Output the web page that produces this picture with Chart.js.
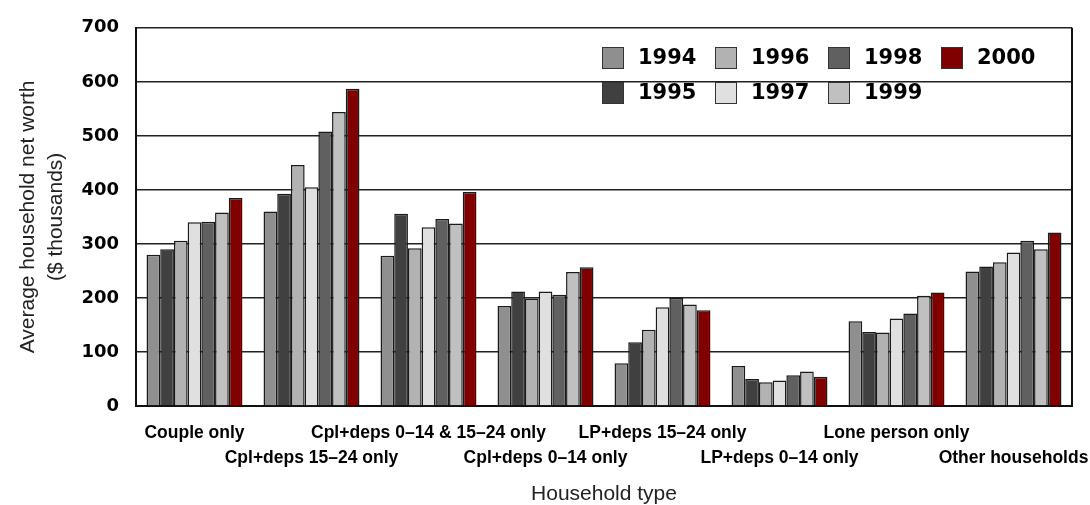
<!DOCTYPE html>
<html>
<head>
<meta charset="utf-8">
<script src="https://cdn.jsdelivr.net/npm/chart.js@4"></script>
<style>
  html, body { margin: 0; padding: 0; background: #fff; }
  #wrap { width: 1090px; height: 505px; }
</style>
</head>
<body>
<div id="wrap"><canvas id="netWorthChart" width="1090" height="505"></canvas></div>
<script>
const householdTypes = [
  'Couple only',
  'Cpl+deps 15–24 only',
  'Cpl+deps 0–14 & 15–24 only',
  'Cpl+deps 0–14 only',
  'LP+deps 15–24 only',
  'LP+deps 0–14 only',
  'Lone person only',
  'Other households'
]
const years = ['1994', '1995', '1996', '1997', '1998', '1999', '2000']
const worth1994 = [280, 360, 278, 185, 79, 74, 157, 249]
const worth1995 = [290, 393, 356, 212, 118, 50, 137, 258]
const worth1996 = [306, 446, 292, 199, 141, 44, 136, 266]
const worth1997 = [340, 405, 331, 212, 183, 47, 162, 284]
const worth1998 = [341, 508, 346, 206, 200, 57, 171, 306]
const worth1999 = [358, 544, 338, 248, 188, 64, 204, 290]
const worth2000 = [385, 587, 396, 257, 177, 54, 210, 321]
const yTicks = [0, 100, 200, 300, 400, 500, 600, 700]

const seriesValues = [worth1994, worth1995, worth1996, worth1997, worth1998, worth1999, worth2000]
const yearColours = ['#8f8f8f', '#404040', '#b2b2b2', '#e0e0e0', '#606060', '#c0c0c0', '#800000']

// labels alternate between two rows so the long names don't collide
const tickLabels = householdTypes.map((name, i) => i % 2 === 0 ? [name, ''] : ['', name])

const datasets = years.map((year, i) => ({
  label: year,
  data: seriesValues[i],
  backgroundColor: yearColours[i],
  borderColor: '#1a1a1a',
  borderWidth: 1.5,
  borderSkipped: 'bottom',
  categoryPercentage: 0.82,
  barPercentage: 1
}))

// box around the plot (right side isn't drawn by the axes)
const framePlugin = {
  id: 'frame',
  afterDatasetsDraw(chart) {
    const { ctx, chartArea } = chart
    ctx.save()
    ctx.strokeStyle = '#111'
    ctx.lineWidth = 2
    ctx.beginPath()
    ctx.moveTo(chartArea.right, chartArea.top)
    ctx.lineTo(chartArea.right, chartArea.bottom)
    ctx.stroke()
    ctx.restore()
  }
}

// legend laid out in columns: 1994/1995, 1996/1997 ...
const columnLegend = {
  id: 'columnLegend',
  afterDraw(chart) {
    const { ctx } = chart
    const startX = 602
    const colGap = 113
    const rowY = [47, 82]
    const box = 22
    ctx.save()
    ctx.font = 'bold 21px "DejaVu Sans"'
    ctx.textBaseline = 'middle'
    ctx.textAlign = 'left'
    chart.data.datasets.forEach((ds, i) => {
      const col = Math.floor(i / 2)
      const row = i % 2
      const x = startX + col * colGap
      const y = rowY[row]
      ctx.fillStyle = ds.backgroundColor
      ctx.fillRect(x, y, box, box)
      ctx.strokeStyle = '#333'
      ctx.lineWidth = 1
      ctx.strokeRect(x + 0.5, y + 0.5, box - 1, box - 1)
      ctx.fillStyle = '#000'
      ctx.fillText(ds.label, x + box + 14, y + box / 2 + 1)
    })
    ctx.restore()
  }
}

new Chart(document.getElementById('netWorthChart').getContext('2d'), {
  type: 'bar',
  data: { labels: tickLabels, datasets: datasets },
  options: {
    responsive: false,
    animation: false,
    layout: { padding: { left: 8, right: 18, top: 14, bottom: 0 } },
    plugins: {
      legend: { display: false },
      tooltip: { enabled: false }
    },
    scales: {
      x: {
        afterFit(scale) { scale.height = 99 },
        grid: { display: true, drawOnChartArea: false, drawTicks: true, tickLength: 15, color: 'rgba(0,0,0,0)' },
        border: { display: true, color: '#111', width: 2 },
        ticks: {
          autoSkip: false,
          maxRotation: 0,
          minRotation: 0,
          padding: 0,
          color: '#000',
          font: { family: '"Liberation Sans", Arial', weight: 'bold', size: 17.5, lineHeight: 1.43 }
        },
        title: {
          display: true,
          text: 'Household type',
          color: '#222',
          padding: { top: 0, bottom: 0 },
          font: { family: '"Liberation Sans", Arial', size: 21, lineHeight: 1.0 }
        }
      },
      y: {
        min: 0,
        max: 700,
        afterBuildTicks(axis) {
          axis.ticks = yTicks.map(v => ({ value: v }))
        },
        afterFit(scale) { scale.width = 128 },
        grid: { color: '#222', lineWidth: 1.5, drawTicks: false },
        border: { display: true, color: '#111', width: 2 },
        ticks: {
          padding: 17,
          color: '#000',
          font: { family: '"DejaVu Sans"', weight: 'bold', size: 18 }
        },
        title: {
          display: true,
          text: ['Average household net worth', '($ thousands)'],
          color: '#222',
          padding: { top: 7, bottom: 0 },
          font: { family: '"Liberation Sans", Arial', size: 21, lineHeight: 1.3 }
        }
      }
    }
  },
  plugins: [framePlugin, columnLegend]
})
</script>
</body>
</html>
